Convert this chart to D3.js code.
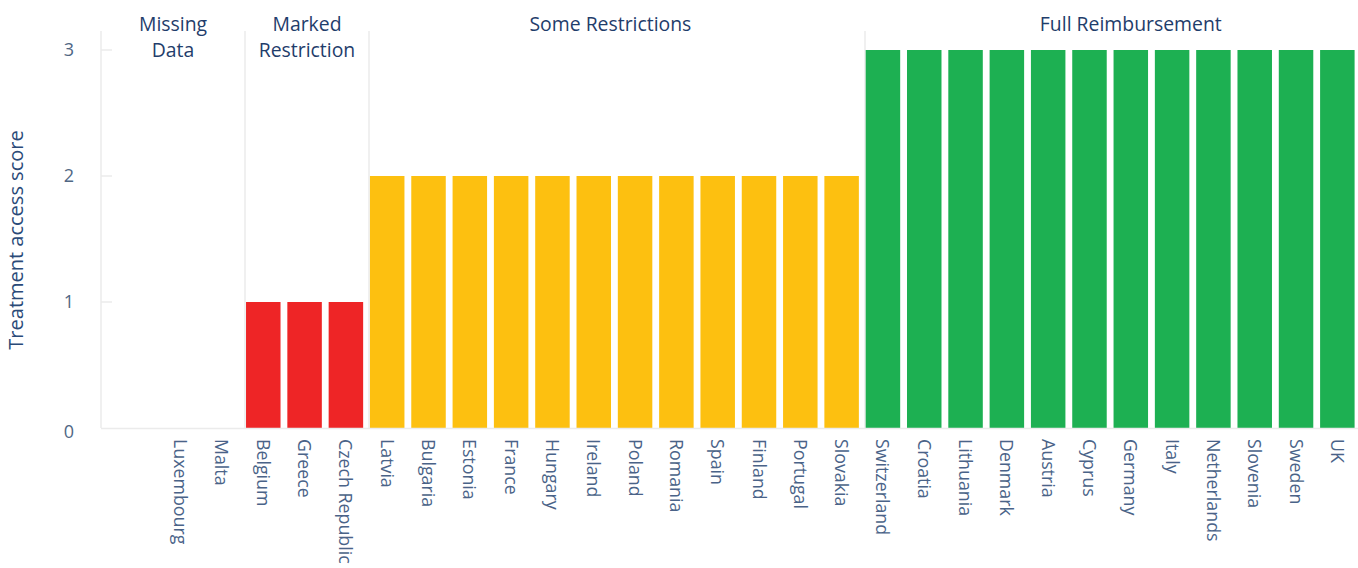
<!DOCTYPE html>
<html>
<head>
<meta charset="utf-8">
<script src="https://cdn.jsdelivr.net/npm/d3@7"></script>
<style>
  html, body { margin: 0; padding: 0; background: #fff; }
  svg { display: block; font-family: "Open Sans", "Noto Sans", sans-serif; }
</style>
</head>
<body>
<svg id="chart" width="1358" height="568"></svg>
<script>
// ---- data ----
const countries = ["Luxembourg","Malta","Belgium","Greece","Czech Republic","Latvia","Bulgaria","Estonia","France","Hungary","Ireland","Poland","Romania","Spain","Finland","Portugal","Slovakia","Switzerland","Croatia","Lithuania","Denmark","Austria","Cyprus","Germany","Italy","Netherlands","Slovenia","Sweden","UK"];
const scores = [0,0,1,1,1,2,2,2,2,2,2,2,2,2,2,2,2,3,3,3,3,3,3,3,3,3,3,3,3];
const groupNames = ["Missing Data","Marked Restriction","Some Restrictions","Full Reimbursement"];
const groupFirst = ["Luxembourg","Belgium","Latvia","Switzerland"];
const yTicks = [0,1,2,3];
const yTitle = "Treatment access score";

// ---- layout ----
const plotLeft = 101, plotRight = 1358, plotTop = 31, plotBottom = 428;
const colorFor = v => v >= 3 ? "#1db052" : v >= 2 ? "#fdc010" : "#ee2526";

const svg = d3.select("#chart");

const x = d3.scaleBand().domain(countries).range([160, 1358]).paddingInner(0.165).paddingOuter(0.0825);
const y = d3.scaleLinear().domain([0, 3]).range([plotBottom, 50]);

const lineColor = "#ebebeb";
svg.append("line").attr("x1", plotLeft).attr("x2", plotLeft).attr("y1", plotTop).attr("y2", plotBottom)
  .attr("stroke", lineColor).attr("stroke-width", 1.5);

groupFirst.slice(1).forEach(c => {
  const gx = Math.round(x(c)) - 1;
  svg.append("line").attr("x1", gx).attr("x2", gx).attr("y1", plotTop).attr("y2", plotBottom)
    .attr("stroke", lineColor).attr("stroke-width", 1.5);
});

const yAxis = svg.append("g");
yTicks.forEach(t => {
  if (t > 0) {
    yAxis.append("line").attr("x1", plotLeft).attr("x2", plotLeft + 11).attr("y1", y(t)).attr("y2", y(t))
      .attr("stroke", lineColor).attr("stroke-width", 1.5);
  }
  yAxis.append("text").attr("x", 74).attr("y", y(t) + 6 + (t === 0 ? 4 : 0))
    .attr("text-anchor", "end").attr("font-size", 18).attr("fill", "#506784").text(t);
});

svg.append("g").selectAll("rect").data(countries.map((c, i) => ({c, v: scores[i]})).filter(d => d.v > 0))
  .join("rect")
  .attr("x", d => x(d.c)).attr("width", x.bandwidth())
  .attr("y", d => y(d.v)).attr("height", d => y(0) - y(d.v))
  .attr("fill", d => colorFor(d.v));

svg.append("line").attr("x1", plotLeft).attr("x2", plotRight).attr("y1", plotBottom + 0.5).attr("y2", plotBottom + 0.5)
  .attr("stroke", lineColor).attr("stroke-width", 1.5);

svg.append("g").selectAll("text").data(countries).join("text")
  .attr("transform", d => `translate(${x(d) + x.bandwidth() / 2 - 6.5},439) rotate(90)`)
  .attr("font-size", 17.8).attr("fill", "#4a6388").attr("text-anchor", "start")
  .text(d => d);

const groupCenters = [
  (plotLeft + (x("Belgium") - 1)) / 2,
  ((x("Belgium") - 1) + (x("Latvia") - 1)) / 2,
  (x("Ireland") + x("Poland") + x.bandwidth()) / 2 - 4,
  x("Germany") + x.bandwidth() / 2
];
groupNames.forEach((g, i) => {
  const lines = (i < 2) ? g.split(" ") : [g];
  const t = svg.append("text").attr("x", groupCenters[i]).attr("y", 30.5)
    .attr("text-anchor", "middle").attr("font-size", 19.4).attr("fill", "#1f3d6b");
  lines.forEach((ln, j) => {
    t.append("tspan").attr("x", groupCenters[i]).attr("dy", j === 0 ? 0 : 26.5).text(ln);
  });
});

svg.append("text").attr("transform", `translate(23,${(plotBottom + 50) / 2 + 1}) rotate(-90)`)
  .attr("text-anchor", "middle").attr("font-size", 20).attr("fill", "#2a4a78").text(yTitle);
</script>
</body>
</html>
